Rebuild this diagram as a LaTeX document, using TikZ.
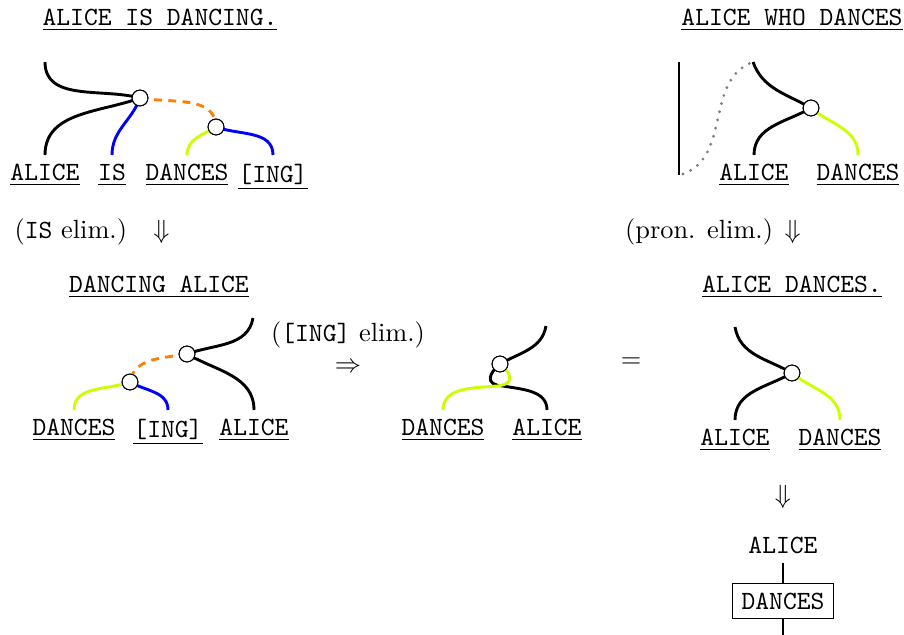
\documentclass[tikz,border=0pt]{standalone}
\usepackage{amsmath,amssymb}
\usepackage{tikz}
\usetikzlibrary{arrows.meta,positioning,calc}
\definecolor{limewire}{RGB}{204,255,0}
\definecolor{orangewire}{RGB}{255,128,0}

\begin{document}
\begin{tikzpicture}[x=0.38pt, y=0.38pt,
        wire/.style={line width=1.1pt, black},
        limew/.style={wire, limewire},
        bluew/.style={wire, blue},
        cupw/.style={wire, orangewire, dash pattern=on 3pt off 2.4pt},
        pronw/.style={line width=1.2pt, gray, line cap=round, dash pattern=on 0pt off 3.2pt},
        dot/.style={circle, draw, fill=white, inner sep=0pt, minimum size=6pt, line width=0.4pt},
        word/.style={font=\ttfamily, anchor=north},
        title/.style={font=\ttfamily},
        boxed/.style={draw, font=\ttfamily}
      ]
        % feste Bounding-Box
        \useasboundingbox (0,0) rectangle (904,-635);

        % ---- ALICE IS DANCING. ----
        \node[title] (tit1) at (160,-20) {\underline{ALICE IS DANCING.}};
        \coordinate (t1) at (45,-62);
        \node[dot] (c1) at (140,-98) {};
        \node[dot] (c2) at (216,-127) {};
        \node[word] (w1a) at (45,-155) {\underline{ALICE}};
        \node[word] (w1b) at (112,-155) {\underline{IS}};
        \node[word] (w1c) at (187,-155) {\underline{DANCES}};
        \node[word] (w1d) at (273,-155) {\underline{[ING]}};
        \draw[wire] (t1) to[out=-90, in=165] (c1.center);
        \draw[wire] (w1a.north) to[out=90, in=200] (c1.center);
        \draw[bluew] (w1b.north) to[out=90, in=250] (c1.center);
        \draw[cupw] (c1.center) to[out=-10, in=90] (c2.center);
        \draw[limew] (w1c.north) to[out=90, in=210] (c2.center);
        \draw[bluew] (w1d.north) to[out=90, in=-20] (c2.center);
        \node[dot] at (c1) {}; \node[dot] at (c2) {};
        \node (step1) at (92,-232) {(\texttt{IS} elim.)\quad$\Downarrow$};

        % ---- ALICE WHO DANCES ----
        \node[title] (tit2) at (792,-20) {\underline{ALICE WHO DANCES}};
        \coordinate (v1) at (679,-62);
        \coordinate (v2) at (679,-175);
        \coordinate (d1) at (683,-174);
        \coordinate (t2) at (753,-62);
        \node[dot] (c3) at (811,-108) {};
        \node[word] (w2a) at (754,-155) {\underline{ALICE}};
        \node[word] (w2b) at (858,-155) {\underline{DANCES}};
        \draw[wire] (v1) -- (v2);
        \draw[pronw] (d1) to[out=20, in=200] (t2);
        \draw[wire] (t2) to[out=-70, in=150] (c3.center);
        \draw[wire] (w2a.north) to[out=90, in=210] (c3.center);
        \draw[limew] (w2b.north) to[out=90, in=-40] (c3.center);
        \node[dot] at (c3) {};
        \node (step2) at (713,-232) {(pron. elim.) $\Downarrow$};

        % ---- DANCING ALICE ----
        \node[title] (tit3) at (159,-287) {\underline{DANCING ALICE}};
        \coordinate (t3) at (253,-318);
        \node[dot] (c4) at (187,-354) {};
        \node[dot] (c5) at (130,-382) {};
        \node[word] (w3a) at (74,-410) {\underline{DANCES}};
        \node[word] (w3b) at (168,-410) {\underline{[ING]}};
        \node[word] (w3c) at (254,-410) {\underline{ALICE}};
        \draw[wire] (c4.center) to[out=20, in=-100] (t3);
        \draw[wire] (w3c.north) to[out=90, in=-30] (c4.center);
        \draw[cupw] (c4.center) to[out=190, in=80] (c5.center);
        \draw[limew] (w3a.north) to[out=90, in=200] (c5.center);
        \draw[bluew] (w3b.north) to[out=90, in=-30] (c5.center);
        \node[dot] at (c4) {}; \node[dot] at (c5) {};
        \node[align=center] (step3) at (348,-347) {(\texttt{[ING]} elim.)\\[0pt]$\Rightarrow$};

        % ---- nach [ING]-Elimination ----
        \coordinate (t4) at (546,-326);
        \node[dot] (c6) at (500,-364) {};
        \node[word] (w4a) at (443,-410) {\underline{DANCES}};
        \node[word] (w4b) at (547,-410) {\underline{ALICE}};
        \draw[wire] (c6.center) to[out=30, in=-100] (t4);
        \draw[wire] (c6.center) .. controls (489,-373) and (484,-385) .. (503,-386)
                                to[out=-10, in=90] (w4b.north);
        \draw[limew] (c6.center) .. controls (511,-373) and (516,-384) .. (497,-386)
                                 to[out=185, in=90] (w4a.north);
        \node[dot] at (c6) {};
        \node (eq) at (631,-363) {$=$};

        % ---- ALICE DANCES. ----
        \node[title] (tit5) at (792,-287) {\underline{ALICE DANCES.}};
        \coordinate (t5) at (735,-327);
        \node[dot] (c7) at (792,-373) {};
        \node[word] (w5a) at (735,-420) {\underline{ALICE}};
        \node[word] (w5b) at (840,-420) {\underline{DANCES}};
        \draw[wire] (t5) to[out=-80, in=150] (c7.center);
        \draw[wire] (w5a.north) to[out=90, in=210] (c7.center);
        \draw[limew] (w5b.north) to[out=90, in=-40] (c7.center);
        \node[dot] at (c7) {};

        % ---- Kastendiagramm ----
        \node (dn) at (783,-497) {$\Downarrow$};
        \node[title] (alice) at (783,-545) {ALICE};
        \node[boxed] (dances) at (783,-601) {DANCES};
        \coordinate (out) at (783,-635);
        \draw (alice) -- (dances);
        \draw (dances) -- (out);
      \end{tikzpicture}
\end{document}
